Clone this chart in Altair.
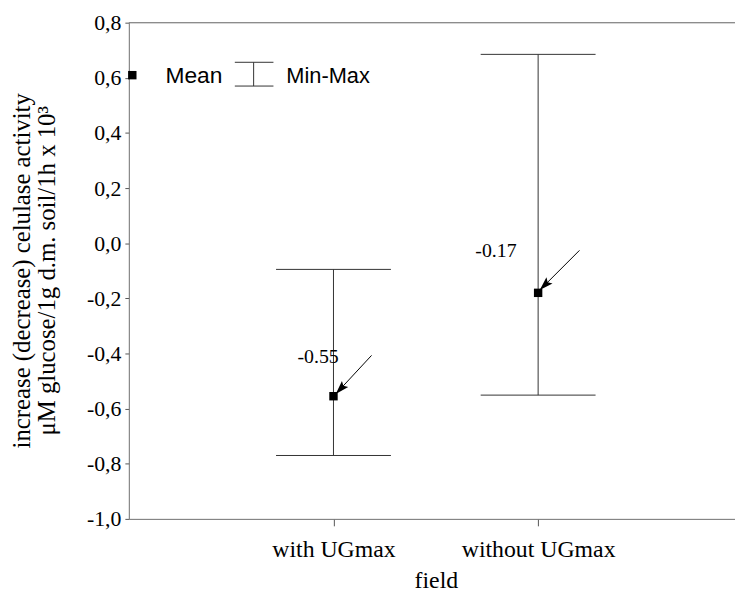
import altair as alt
import pandas as pd

# ---- data ----
categories = ["with UGmax", "without UGmax"]
positions = [1, 2]
means = [-0.555, -0.18]
mins = [-0.77, -0.551]
maxs = [-0.095, 0.685]

ann_text = ["-0.55", "-0.17"]
ann_x = [0.925, 1.794]
ann_y = [-0.412, -0.028]
arrow_tail_x = [1.186, 2.202]
arrow_tail_y = [-0.407, -0.026]
arrow_tip_x = [1.011, 2.008]
arrow_tip_y = [-0.547, -0.170]
arrow_angle = [223, 225]

y_ticks = [-1.0, -0.8, -0.6, -0.4, -0.2, 0.0, 0.2, 0.4, 0.6, 0.8]
y_tick_labels = ["-1,0", "-0,8", "-0,6", "-0,4", "-0,2", "0,0", "0,2", "0,4", "0,6", "0,8"]

y_title = ["increase (decrease) celulase activity", "\u03bcM glucose/1g d.m. soil/1h x 10\u00b3"]
x_title = "field"

W, H = 612, 501
SERIF = "Liberation Serif"
SANS = "Liberation Sans"

df = pd.DataFrame({"x": positions, "cat": categories, "mean": means, "min": mins, "max": maxs})
ann = pd.DataFrame({"x": ann_x, "y": ann_y, "t": ann_text,
                    "tx": arrow_tail_x, "ty": arrow_tail_y,
                    "hx": arrow_tip_x, "hy": arrow_tip_y, "ang": arrow_angle})
one = pd.DataFrame({"a": [0]})

x_label_expr = " : ".join(
    f"datum.value == {p} ? '{c}'" for p, c in zip(positions, categories)
) + " : ''"
y_label_expr = "[" + ",".join(f"'{s}'" for s in y_tick_labels) + "][round((datum.value + 1) * 5)]"

# the plot area runs on past the right edge of the picture; only this part shows
xs = alt.Scale(domain=[0, 2.962], nice=False, zero=False)
ys = alt.Scale(domain=[-1.0, 0.8], nice=False, zero=False)

x_axis = alt.Axis(values=positions, labelExpr=x_label_expr, title=x_title, grid=False,
                  tickSize=7, tickColor="#555555", domainColor="#777777",
                  labelFont=SERIF, labelFontSize=24, labelColor="black", labelPadding=12,
                  titleFont=SERIF, titleFontSize=24, titleFontWeight="normal", titleColor="black",
                  titleX=310, titleY=69, titleBaseline="alphabetic")
y_axis = alt.Axis(values=y_ticks, labelExpr=y_label_expr, title=y_title, grid=False,
                  tickSize=4, tickColor="#555555", domainColor="#777777",
                  labelFont=SERIF, labelFontSize=22, labelColor="black", labelPadding=4,
                  titleFont=SERIF, titleFontSize=25, titleFontWeight="normal", titleColor="black",
                  titleLineHeight=25, titleX=-108, titleY=250, titleBaseline="middle",
                  titleAngle=270)

base = alt.Chart(df)

vbar = base.mark_rule(color="#333333", strokeWidth=1).encode(
    x=alt.X("x:Q", scale=xs, axis=x_axis),
    y=alt.Y("min:Q", scale=ys, axis=y_axis),
    y2="max:Q",
)
cap_top = base.mark_rule(color="#333333", strokeWidth=1, xOffset=-58, x2Offset=58).encode(
    x=alt.X("x:Q", scale=xs), x2="x:Q", y=alt.Y("max:Q", scale=ys))
cap_bot = base.mark_rule(color="#333333", strokeWidth=1, xOffset=-58, x2Offset=58).encode(
    x=alt.X("x:Q", scale=xs), x2="x:Q", y=alt.Y("min:Q", scale=ys))
mean_pts = base.mark_square(color="black", size=72, opacity=1).encode(
    x=alt.X("x:Q", scale=xs), y=alt.Y("mean:Q", scale=ys))

ann_base = alt.Chart(ann)
ann_text_layer = ann_base.mark_text(font=SERIF, fontSize=20, color="black",
                                    baseline="middle", align="center").encode(
    x=alt.X("x:Q", scale=xs), y=alt.Y("y:Q", scale=ys), text="t:N")
arrow_line = ann_base.mark_rule(color="black", strokeWidth=1).encode(
    x=alt.X("tx:Q", scale=xs), y=alt.Y("ty:Q", scale=ys), x2="hx:Q", y2="hy:Q")
arrow_head = ann_base.mark_point(shape="M0,0L0.5,1.6L0,1.3L-0.5,1.6Z", size=300,
                                 filled=True, color="black", opacity=1).encode(
    x=alt.X("hx:Q", scale=xs), y=alt.Y("hy:Q", scale=ys),
    angle=alt.Angle("ang:Q", scale=None))

# top frame line and legend (drawn marks)
lg = alt.Chart(one)
top_frame = lg.mark_rule(color="#777777", strokeWidth=1).encode(
    x=alt.value(0), x2=alt.value(W), y=alt.value(0))
leg_sq = lg.mark_square(color="black", size=72, opacity=1).encode(
    x=alt.value(3.5), y=alt.value(53))
leg_mean = lg.mark_text(font=SANS, fontSize=23, align="left", baseline="middle",
                        color="black", text="Mean").encode(x=alt.value(37), y=alt.value(54))
leg_v = lg.mark_rule(color="#333333").encode(x=alt.value(126), y=alt.value(40), y2=alt.value(64))
leg_c1 = lg.mark_rule(color="#333333").encode(x=alt.value(107), x2=alt.value(146), y=alt.value(40))
leg_c2 = lg.mark_rule(color="#333333").encode(x=alt.value(107), x2=alt.value(146), y=alt.value(64))
leg_mm = lg.mark_text(font=SANS, fontSize=22, align="left", baseline="middle",
                      color="black", text="Min-Max").encode(x=alt.value(159), y=alt.value(54))

chart = alt.layer(
    top_frame, vbar, cap_top, cap_bot, arrow_line, arrow_head, mean_pts, ann_text_layer,
    leg_sq, leg_mean, leg_v, leg_c1, leg_c2, leg_mm,
).properties(
    width=W, height=H,
    autosize=alt.AutoSizeParams(type="none"),
    padding={"left": 122, "top": 12, "right": 0, "bottom": 71},
).configure_view(stroke=None).configure(background="white")

chart.save("out.html", embed_options={"renderer": "svg", "actions": False})
